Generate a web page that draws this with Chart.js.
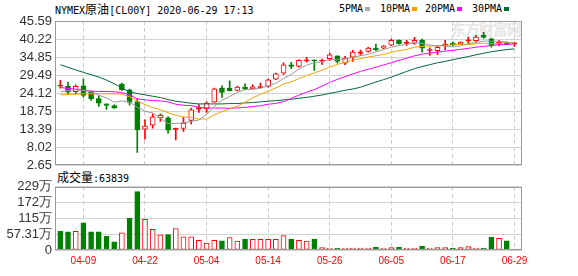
<!DOCTYPE html>
<html>
<head>
<meta charset="utf-8">
<script src="https://cdn.jsdelivr.net/npm/chart.js@4"></script>
<style>
body{margin:0;background:#fff;width:578px;height:276px;overflow:hidden;position:relative;font-family:"DejaVu Sans Mono",monospace;}
.t{position:absolute;font-size:10px;line-height:12px;color:#000;white-space:nowrap}
.cjk{font-family:"Noto Sans CJK SC";font-size:12px}
.sq{display:inline-block;width:5px;height:4px;margin-left:2px;vertical-align:1px}
#wm{position:absolute;left:451px;top:18px;font-family:"Noto Sans CJK SC";font-size:15px;font-weight:bold;color:#e6e6e6;letter-spacing:-1px}
canvas{position:absolute;left:0}
</style>
</head>
<body>
<div id="wm">东方财富网</div>
<div class="t" style="left:55px;top:3px">NYMEX<span class="cjk">原油</span>[CL00Y] 2020-06-29 17:13</div>
<div class="t" style="left:339px;top:3px">5PMA<span class="sq" style="background:#aaa"></span></div>
<div class="t" style="left:380px;top:3px">10PMA<span class="sq" style="background:#f5a200"></span></div>
<div class="t" style="left:425px;top:3px">20PMA<span class="sq" style="background:#ff00ff"></span></div>
<div class="t" style="left:472px;top:3px">30PMA<span class="sq" style="background:#006a35"></span></div>
<div class="t" style="left:57px;top:171px"><span class="cjk">成交量</span>:63839</div>
<canvas id="kline" width="578" height="176" style="top:0"></canvas>
<canvas id="vol" width="578" height="100" style="top:176px"></canvas>
<script>
// daily candles, index 0 = 04-06
const opens  = [26.22,26.10,24.51,26.29,24.61,22.52,20.93,20.43,26.79,25.10,21.62,13.37,14.57,16.75,16.75,13.30,13.57,15.96,19.34,19.44,21.43,25.60,25.60,24.90,25.90,25.40,25.75,26.10,28.28,30.07,32.56,32.06,33.70,33.95,33.60,34.35,35.24,33.05,34.84,35.94,36.53,37.53,37.53,38.42,39.81,38.92,39.02,39.81,36.80,36.73,38.32,39.02,38.72,39.66,39.71,41.30,40.31,38.72,39.02,38.77];
const highs  = [27.89,27.39,26.59,28.28,24.80,23.31,20.93,20.63,27.09,25.30,22.32,16.16,17.95,17.95,17.05,13.67,16.95,19.64,20.73,21.52,25.60,26.30,27.79,26.20,26.89,26.59,27.09,28.28,30.07,33.15,33.25,34.05,34.74,33.95,34.25,36.04,35.24,35.04,36.83,36.93,37.73,38.72,38.32,40.21,40.01,39.81,40.71,40.21,37.63,38.03,39.81,39.42,39.42,40.81,41.30,42.20,40.51,39.81,39.32,39.22];
const lows   = [25.60,23.81,23.91,22.91,21.92,20.13,19.24,19.54,24.90,20.53,6.42,10.39,13.67,15.66,12.18,10.19,12.68,14.96,18.34,18.34,21.33,22.82,24.80,24.80,25.10,25.40,25.60,25.90,28.09,29.67,31.37,31.86,33.35,30.87,32.66,33.85,33.05,32.56,33.55,35.44,36.34,36.73,37.33,38.23,38.72,38.32,38.72,36.34,35.34,35.54,37.03,38.23,38.62,38.82,39.52,40.41,37.83,38.23,38.52,38.02];
const closes = [26.32,24.41,26.10,23.41,22.42,21.13,20.43,19.73,25.10,21.33,13.17,14.27,17.05,17.55,13.08,13.45,15.16,19.14,19.83,21.13,25.40,24.31,24.80,25.90,25.40,26.00,25.85,28.09,29.87,32.56,32.06,33.85,33.80,33.75,33.70,35.54,33.55,34.54,36.34,36.43,37.53,37.03,38.23,39.81,38.82,39.02,39.81,37.53,36.90,37.73,38.72,38.42,39.32,39.76,40.81,40.71,38.23,39.22,38.62,38.87];

// moving averages as drawn
const ma5  = [24.5,24.9,25.1,24.9,24.54,23.49,22.70,21.42,21.76,21.54,19.95,18.72,18.18,16.67,15.02,15.08,15.26,15.68,16.13,17.74,20.13,21.96,23.09,24.31,25.16,25.28,25.59,26.25,27.04,28.47,29.69,31.29,32.43,33.20,33.43,34.13,34.07,34.22,34.73,35.28,35.68,36.37,37.11,37.81,38.28,38.58,39.14,39.00,38.42,38.20,38.14,37.86,38.22,38.79,39.21,39.60,39.57,39.55,39.32,38.93];
const ma10 = [23.6,23.7,23.8,23.9,23.9,23.9,23.9,23.9,23.8,23.04,21.72,20.71,19.80,19.22,18.28,17.52,16.99,16.93,16.40,16.38,17.61,18.61,19.39,20.22,21.45,22.71,23.78,24.67,25.68,26.82,27.48,28.44,29.34,30.12,30.95,31.91,32.68,33.32,33.97,34.36,34.90,35.22,35.66,36.27,36.78,37.13,37.76,38.06,38.11,38.24,38.36,38.50,38.61,38.60,38.80,38.97,38.81,38.98,39.15,39.27];
const ma20 = [25.8,25.5,25.3,25.0,24.7,24.6,24.6,24.5,24.3,23.6,22.4,22.1,21.9,21.8,21.5,20.8,20.5,20.4,19.9,19.71,19.66,19.66,19.59,19.72,19.87,20.11,20.38,20.80,21.04,21.60,22.55,23.52,24.36,25.17,26.20,27.31,28.23,29.00,29.82,30.59,31.19,31.83,32.50,33.20,33.87,34.52,35.22,35.69,36.04,36.30,36.63,36.86,37.14,37.44,37.79,38.05,38.28,38.52,38.63,38.75];
const ma30 = [32.56,31.8,31.0,30.3,29.6,28.9,28.0,26.9,25.6,24.5,24.0,23.6,23.2,22.8,22.2,21.7,21.4,21.1,20.9,20.9,20.9,20.9,21.0,21.0,21.2,21.3,21.5,21.7,21.9,22.08,22.27,22.59,22.84,23.19,23.56,24.04,24.48,24.97,25.35,25.85,26.66,27.42,28.13,28.87,29.73,30.58,31.40,32.02,32.59,33.14,33.58,34.05,34.54,35.00,35.51,36.00,36.42,36.79,37.08,37.29];

// volume in 万, 1 = red bar, 0 = green bar
const volume = [69,66,68,99,66,66,50,30,62,116,212,111,75,55,56,78,48,48,35,25,35,33,45,32,40,39,39,39,39,52,40,35,32,40,9,7,7,7,7,7,7,10,7,9,10,7,7,13,7,9,9,7,9,12,7,7,46,42,33,3];
const volUp  = [0,0,1,0,0,0,0,0,1,0,0,1,1,1,0,1,1,1,1,1,1,0,1,1,0,1,1,1,1,1,0,1,1,0,1,1,0,1,1,1,1,0,1,1,0,1,1,0,1,1,1,0,1,1,1,0,0,1,0,0];

// axis ticks
const dateIdx = [3,11,19,27,35,43,51,59];
const dateLabels = ['04-09','04-22','05-04','05-14','05-26','06-05','06-17','06-29'];
const priceTicks = [2.65,8.02,13.39,18.75,24.12,29.49,34.85,40.22,45.59];
const volTicks = [0,57.31,114.62,171.93,229.24];
const volTickLabels = ['0','57.31万','115万','172万','229万'];

const RED = '#ff0000', GREEN = '#008000';
const idx = closes.map((_, i) => i);
const up = idx.map(i => closes[i] >= opens[i]);

const frame = {
  id: 'frame',
  afterDraw(c) {
    const a = c.chartArea, ctx = c.ctx;
    ctx.save();
    ctx.strokeStyle = '#999';
    ctx.lineWidth = 1;
    ctx.strokeRect(Math.round(a.left) + 0.5, Math.round(a.top) + 0.5, Math.round(a.right - a.left) - 1, Math.round(a.bottom - a.top) - 1);
    ctx.restore();
  }
};

const xAxis = (showLabels) => ({
  type: 'linear', min: -0.69, max: 59.98, offset: false,
  afterBuildTicks: s => { s.ticks = dateIdx.map(v => ({value: v})); },
  ticks: {display: showLabels, color: RED, autoSkip: false, maxRotation: 0, padding: 5,
          font: {family: 'Liberation Sans', size: 10}, callback: (v, i) => dateLabels[i]},
  grid: {color: '#ccc', drawTicks: false, offset: false},
  border: {display: false, dash: [4, 3]}
});

const yTicks = {color: '#333', padding: 3, autoSkip: false, font: {family: 'Liberation Sans', size: 13}};

function maLine(data, color) {
  return {type: 'line', data: idx.map(i => ({x: i, y: data[i]})), borderColor: color,
          borderWidth: 1, pointRadius: 0, tension: 0, order: -1};
}

// K线
new Chart(document.getElementById('kline'), {
  type: 'bar',
  data: {
    datasets: [
      maLine(ma5, '#999999'),
      maLine(ma10, '#f5a200'),
      maLine(ma20, '#ff00ff'),
      maLine(ma30, '#006a35'),
      {
        data: idx.map(i => ({x: i, y: [opens[i], closes[i]]})),
        backgroundColor: idx.map(i => up[i] ? (Math.abs(closes[i] - opens[i]) < 0.6 ? RED : '#fff') : GREEN),
        borderColor: idx.map(i => up[i] ? RED : GREEN),
        borderWidth: 1, borderSkipped: false, barThickness: 5, minBarLength: 1,
        grouped: false, order: 0
      },
      {
        data: idx.map(i => ({x: i, y: [lows[i], highs[i]]})),
        backgroundColor: idx.map(i => up[i] ? RED : GREEN),
        barThickness: 1, grouped: false, order: 1
      }
    ]
  },
  options: {
    responsive: false, animation: false, events: [], devicePixelRatio: 1,
    layout: {padding: {top: 21, right: 56, bottom: 10.7, left: 0}},
    plugins: {legend: {display: false}, tooltip: {enabled: false}},
    scales: {
      x: xAxis(false),
      y: {
        min: 2.65, max: 45.59,
        afterBuildTicks: s => { s.ticks = priceTicks.map(v => ({value: v})); },
        afterFit: s => { s.width = 55; },
        ticks: {...yTicks, callback: v => v.toFixed(2)},
        grid: {color: '#d3d3d3', drawTicks: false},
        border: {display: false}
      }
    }
  },
  plugins: [frame]
});

// 成交量: red (hollow) and green bars as two datasets
const volRed = idx.filter(i => volUp[i]).map(i => ({x: i, y: volume[i]}));
const volGreen = idx.filter(i => !volUp[i]).map(i => ({x: i, y: volume[i]}));

new Chart(document.getElementById('vol'), {
  type: 'bar',
  data: {
    datasets: [
      {data: volRed, backgroundColor: '#fff', borderColor: RED, borderWidth: 1, borderSkipped: false, barThickness: 5, grouped: false},
      {data: volGreen, backgroundColor: GREEN, borderColor: GREEN, borderWidth: 1, borderSkipped: false, barThickness: 5, grouped: false}
    ]
  },
  options: {
    responsive: false, animation: false, events: [], devicePixelRatio: 1,
    layout: {padding: {top: 10, right: 56, bottom: 4, left: 0}},
    plugins: {legend: {display: false}, tooltip: {enabled: false}},
    scales: {
      x: xAxis(true),
      y: {
        min: 0, max: volTicks[volTicks.length - 1],
        afterBuildTicks: s => { s.ticks = volTicks.map(v => ({value: v})); },
        afterFit: s => { s.width = 55; },
        ticks: {...yTicks, callback: (v, i) => volTickLabels[i]},
        grid: {color: '#d3d3d3', drawTicks: false},
        border: {display: false}
      }
    }
  },
  plugins: [frame]
});
</script>
</body>
</html>
